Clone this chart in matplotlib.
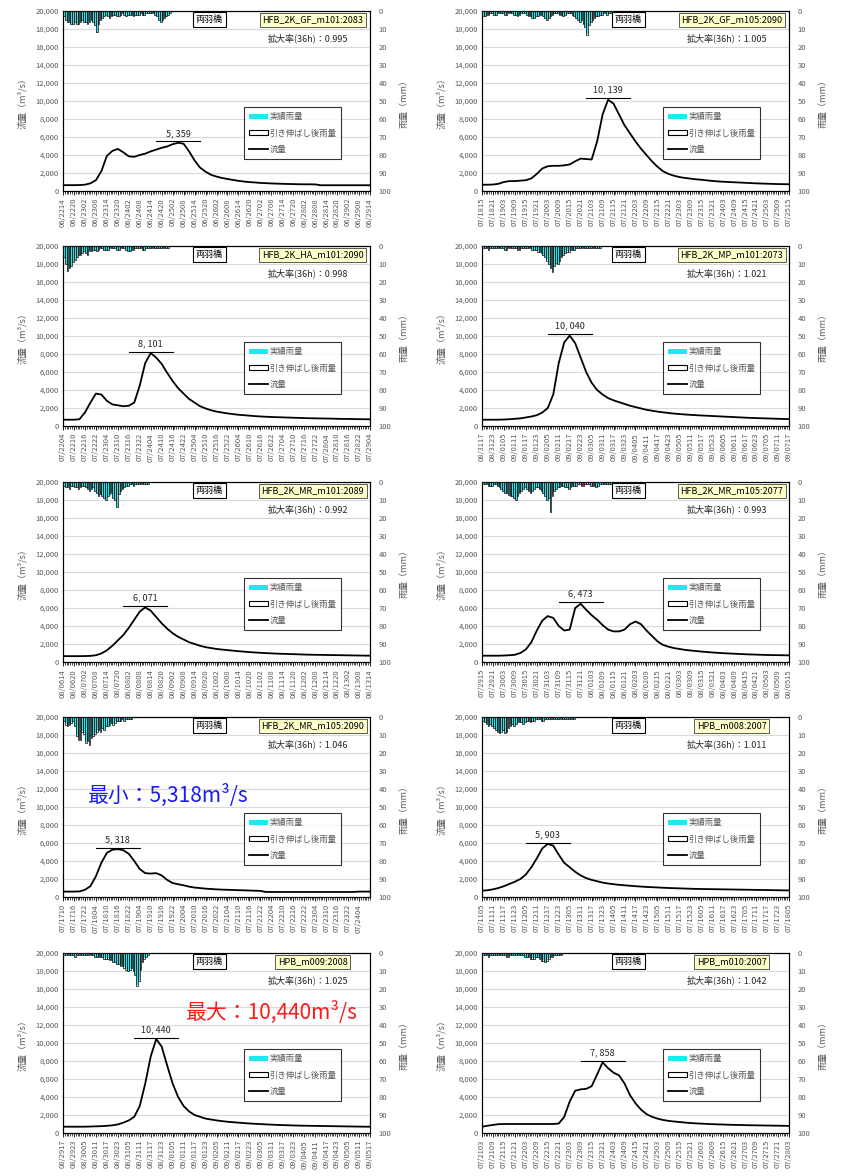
import matplotlib.pyplot as plt
import numpy as np
from datetime import datetime, timedelta
from matplotlib.patches import Patch
from matplotlib.lines import Line2D

plt.rcParams['font.family'] = ['Noto Sans CJK JP', 'DejaVu Sans']

# ---- data -------------------------------------------------------------
station = "両羽橋"
cases = ["HFB_2K_GF_m101:2083", "HFB_2K_GF_m105:2090",
         "HFB_2K_HA_m101:2090", "HFB_2K_MP_m101:2073",
         "HFB_2K_MR_m101:2089", "HFB_2K_MR_m105:2077",
         "HFB_2K_MR_m105:2090", "HPB_m008:2007",
         "HPB_m009:2008", "HPB_m010:2007"]
ratios = ["0.995", "1.005", "0.998", "1.021", "0.992",
          "0.993", "1.046", "1.011", "1.025", "1.042"]
starts = ["06/22 14", "07/18 15", "07/22 04", "08/31 17", "08/06 14",
          "07/29 15", "07/17 10", "07/11 05", "08/29 17", "07/21 03"]
label_end = [168, 168, 168, 168, 168, 168, 162, 168, 168, 168]

# flow (m3/s), every 3 hours from the start
flow_step = 3
q1 = [650, 650, 650, 660, 700, 850, 1200, 2200, 3900, 4450,
      4680, 4300, 3850, 3800, 4000, 4150, 4400, 4600, 4800, 4950,
      5200, 5359, 5250, 4400, 3400, 2600, 2150, 1800, 1600, 1450,
      1330, 1230, 1130, 1050, 990, 950, 900, 870, 840, 820,
      800, 780, 770, 750, 745, 740, 735, 640, 640, 640,
      640, 640, 640, 640, 640, 640, 640]
q2 = [700, 700, 720, 800, 1000, 1100, 1100, 1150, 1200, 1400,
      1900, 2500, 2750, 2800, 2800, 2850, 2950, 3300, 3600, 3550,
      3500, 5500, 8500, 10139, 9700, 8500, 7300, 6400, 5500, 4700,
      4000, 3300, 2700, 2200, 1900, 1700, 1550, 1450, 1380, 1300,
      1250, 1180, 1120, 1070, 1030, 1000, 970, 940, 910, 880,
      850, 830, 810, 790, 770, 760, 750]
q3 = [700, 700, 700, 750, 1500, 2600, 3600, 3500, 2800, 2400,
      2300, 2200, 2250, 2600, 4500, 7000, 8101, 7600, 6900, 5900,
      5000, 4200, 3600, 3000, 2600, 2200, 1950, 1750, 1600, 1500,
      1400, 1320, 1250, 1200, 1150, 1100, 1060, 1030, 1000, 980,
      960, 940, 920, 900, 880, 860, 850, 840, 830, 820,
      800, 790, 780, 770, 760, 750, 750]
q4 = [700, 700, 700, 700, 720, 750, 800, 850, 950, 1050,
      1200, 1500, 2000, 3500, 7000, 9300, 10040, 9200, 7600, 6000,
      4800, 4000, 3500, 3100, 2850, 2650, 2450, 2250, 2100, 1950,
      1800, 1700, 1600, 1520, 1450, 1380, 1330, 1280, 1240, 1200,
      1170, 1140, 1110, 1080, 1050, 1020, 990, 960, 930, 900,
      880, 860, 840, 820, 800, 780, 760]
q5 = [650, 650, 650, 650, 660, 680, 750, 950, 1300, 1800,
      2400, 3000, 3800, 4700, 5600, 6071, 5700, 5000, 4300, 3700,
      3200, 2800, 2500, 2200, 2000, 1800, 1650, 1550, 1450, 1380,
      1320, 1260, 1200, 1150, 1100, 1060, 1020, 990, 960, 930,
      910, 890, 870, 850, 830, 810, 800, 790, 780, 770,
      760, 750, 740, 730, 720, 710, 700]
q6 = [700, 700, 700, 700, 720, 750, 800, 1000, 1400, 2200,
      3500, 4600, 5100, 4900, 4000, 3500, 3600, 6000, 6473, 5800,
      5200, 4700, 4100, 3600, 3400, 3400, 3600, 4200, 4500, 4200,
      3500, 2900, 2300, 1900, 1700, 1550, 1450, 1350, 1280, 1220,
      1160, 1110, 1060, 1020, 980, 950, 920, 890, 860, 840,
      820, 800, 780, 770, 760, 750, 740]
q7 = [600, 600, 600, 620, 800, 1200, 2300, 3800, 4900, 5250,
      5318, 5200, 4800, 4000, 3100, 2650, 2600, 2650, 2400, 1900,
      1550, 1420, 1300, 1150, 1050, 990, 930, 890, 850, 820,
      800, 780, 760, 740, 720, 700, 680, 560, 560, 560,
      560, 560, 560, 560, 560, 560, 560, 560, 560, 560,
      560, 560, 560, 560, 600, 600, 600]
q8 = [700, 750, 850, 1000, 1200, 1450, 1700, 2000, 2500, 3300,
      4300, 5400, 5903, 5700, 4700, 3800, 3300, 2800, 2400, 2100,
      1900, 1750, 1600, 1500, 1420, 1350, 1300, 1250, 1200, 1160,
      1120, 1090, 1060, 1030, 1000, 980, 960, 940, 920, 900,
      890, 880, 870, 860, 850, 840, 830, 820, 810, 800,
      790, 780, 770, 760, 750, 740, 730]
q9 = [700, 700, 700, 700, 700, 720, 740, 760, 800, 850,
      950, 1150, 1400, 1800, 3000, 5500, 8500, 10440, 9600, 7500,
      5500, 4000, 3000, 2400, 2000, 1800, 1600, 1500, 1400, 1320,
      1250, 1200, 1150, 1100, 1060, 1020, 990, 960, 930, 900,
      880, 860, 840, 820, 810, 800, 790, 780, 770, 760,
      750, 740, 730, 720, 710, 700, 700]
q10 = [700, 800, 900, 980, 1000, 1000, 1000, 1000, 1000, 1000,
       1000, 1000, 1000, 1000, 1050, 1800, 3500, 4700, 4850, 4900,
       5200, 6500, 7858, 7200, 6700, 6400, 5500, 4200, 3300, 2600,
       2100, 1800, 1600, 1450, 1350, 1280, 1220, 1160, 1110, 1070,
       1040, 1010, 980, 960, 940, 920, 900, 890, 870, 860,
       850, 840, 830, 820, 810, 800, 790]

# observed hourly rainfall (mm) from the start
r1 = [3, 5, 6, 6, 7, 7, 6, 7, 7, 6, 5, 6, 6, 7, 6, 5, 6, 8, 12, 7,
      5, 4, 3, 2, 3, 4, 3, 2, 2, 3, 3, 2, 1, 2, 3, 2, 2, 2, 3, 2,
      2, 2, 1, 2, 2, 1, 1, 1, 1, 1, 2, 3, 5, 6, 5, 4, 3, 2, 1]
r2 = [3, 3, 2, 2, 1, 1, 2, 2, 1, 1, 1, 1, 2, 2, 1, 1, 1, 2, 2, 3,
      2, 1, 1, 1, 2, 3, 3, 4, 4, 3, 3, 2, 2, 3, 4, 5, 4, 3, 2, 1,
      1, 1, 2, 2, 3, 2, 1, 1, 1, 2, 3, 4, 5, 6, 5, 7, 9, 13, 8, 6,
      5, 4, 3, 3, 2, 2, 1, 1, 2, 1, 1, 1]
r3 = [6, 10, 14, 12, 11, 9, 8, 6, 5, 5, 4, 3, 4, 5, 3, 3, 2, 2, 3, 2,
      1, 1, 2, 2, 2, 1, 1, 1, 1, 2, 2, 1, 1, 1, 2, 3, 3, 2, 2, 1,
      1, 1, 1, 2, 2, 1, 1, 1, 1, 1, 1, 1, 1, 1, 1, 1, 1, 1]
r4 = [1, 1, 1, 2, 1, 1, 1, 1, 1, 1, 1, 1, 2, 2, 1, 1, 1, 1, 1, 2,
      2, 1, 1, 1, 1, 1, 1, 2, 2, 2, 3, 3, 4, 5, 6, 8, 10, 12, 14, 11,
      9, 10, 8, 6, 5, 4, 3, 3, 2, 2, 2, 1, 1, 1, 1, 1, 1, 1, 1, 1,
      1, 1, 1, 1, 1]
r5 = [2, 3, 3, 4, 2, 2, 3, 3, 4, 3, 2, 2, 3, 4, 5, 4, 3, 5, 6, 8,
      7, 8, 9, 10, 8, 7, 6, 9, 10, 14, 7, 5, 4, 3, 2, 2, 1, 1, 2, 1,
      1, 1, 1, 1, 1, 1, 1]
r6 = [1, 1, 1, 2, 2, 2, 1, 1, 2, 3, 4, 5, 6, 6, 7, 8, 8, 9, 10, 8,
      6, 5, 4, 3, 4, 5, 6, 5, 4, 3, 3, 4, 5, 6, 8, 10, 9, 17, 8, 5,
      4, 3, 3, 2, 2, 3, 3, 4, 3, 2, 2, 2, 1, 1, 2, 2, 1, 1, 1, 2,
      2, 2, 3, 2, 1, 1, 1, 1, 1, 1, 1, 2, 2, 1, 1, 1, 1, 1, 1, 1, 1]
r7 = [2, 4, 5, 4, 3, 2, 5, 10, 12, 12, 8, 9, 14, 13, 15, 11, 10, 9, 8, 7,
      8, 6, 7, 5, 5, 4, 3, 4, 3, 2, 2, 2, 1, 2, 1, 1, 1, 1]
r8 = [2, 3, 4, 5, 4, 5, 6, 7, 8, 9, 8, 7, 9, 8, 6, 5, 4, 5, 4, 3,
      3, 3, 4, 3, 2, 2, 3, 2, 2, 1, 1, 1, 2, 2, 1, 1, 1, 1, 1, 1,
      1, 1, 1, 1, 1, 1, 1, 1, 1, 1, 1]
r9 = [1, 1, 1, 1, 1, 1, 2, 1, 1, 1, 1, 1, 1, 1, 1, 1, 1, 2, 2, 2,
      2, 2, 3, 3, 3, 4, 4, 5, 5, 6, 6, 7, 7, 8, 9, 10, 9, 8, 10, 12,
      18, 15, 9, 5, 3, 2, 1]
r10 = [1, 1, 1, 2, 1, 1, 1, 1, 1, 1, 1, 1, 1, 2, 2, 1, 1, 1, 1, 1,
       1, 1, 1, 2, 2, 2, 3, 3, 3, 2, 2, 3, 4, 4, 5, 4, 3, 2, 2, 1,
       1, 1, 1, 1]

flows = [q1, q2, q3, q4, q5, q6, q7, q8, q9, q10]
rains = [r1, r2, r3, r4, r5, r6, r7, r8, r9, r10]

# big notes: panel -> (text, colour, x, y in axes fraction)
notes = {6: ("最小：5,318m³/s", "#1a1aff", 0.08, 0.567),
         8: ("最大：10,440m³/s", "#ff1a1a", 0.40, 0.67)}

# ---- figure -------------------------------------------------------------
W, H = 854, 1176
fig = plt.figure(figsize=(W / 100, H / 100), dpi=100)

lefts = [63, 482]
ax_w = 307
tops = [11, 246, 482, 717, 953]
ax_h = 180

gray = "#595959"
cyan = "#1ee8f0"

for i in range(10):
    row, col = divmod(i, 2)
    ax = fig.add_axes([lefts[col] / W, 1 - (tops[row] + ax_h) / H,
                       ax_w / W, ax_h / H])
    ax2 = ax.twinx()

    t0 = datetime.strptime("2001/" + starts[i], "%Y/%m/%d %H")
    q = np.array(flows[i])
    tq = np.arange(len(q)) * flow_step
    r = np.array(rains[i], dtype=float)
    tr = np.arange(len(r)) + 0.5

    # flow
    ax.plot(tq, q, color="black", lw=1.3, zorder=3)
    ax.set_xlim(0, 168)
    ax.set_ylim(0, 20000)
    ax.set_yticks(range(0, 20001, 2000))
    ax.set_yticklabels([f"{v:,}" for v in range(0, 20001, 2000)])
    ax.yaxis.grid(True, color="#d9d9d9", lw=0.8)
    ax.set_axisbelow(True)

    hours = list(range(0, label_end[i] + 1, 6))
    ax.set_xticks(hours)
    ax.set_xticklabels([(t0 + timedelta(hours=h)).strftime("%m/%d%H")
                        for h in hours], rotation=90)
    ax.set_xticks(range(0, 169), minor=True)
    ax.tick_params(axis="x", which="major", length=3, width=0.6,
                   labelsize=5.5, labelcolor=gray, pad=2)
    ax.tick_params(axis="x", which="minor", length=2, width=0.5)
    ax.tick_params(axis="y", length=0, labelsize=5.5, labelcolor=gray, pad=3)
    ax.set_ylabel("流量（m³/s）", fontsize=6.5, color=gray, labelpad=6)

    # rainfall (hanging from top)
    ax2.bar(tr, r, width=0.9, color=cyan, edgecolor="none", zorder=2)
    ax2.bar(tr, r * float(ratios[i]), width=0.9, facecolor="none",
            edgecolor="#1a1a1a", lw=0.55, zorder=3)
    ax2.set_ylim(100, 0)
    ax2.set_yticks(range(0, 101, 10))
    ax2.tick_params(axis="y", length=0, labelsize=5.5, labelcolor=gray, pad=6)
    ax2.set_ylabel("雨量（mm）", fontsize=6.5, color=gray, labelpad=6)

    for a in (ax, ax2):
        for s in a.spines.values():
            s.set_linewidth(0.8)

    # peak
    k = int(np.argmax(q))
    pk = q[k]
    ax.plot([tq[k] - 12, tq[k] + 12], [pk + 150, pk + 150],
            color="black", lw=0.8, zorder=3)
    ax.text(tq[k], pk + 550, f"{pk:,}".replace(",", ", "),
            ha="center", va="bottom", fontsize=6.5, color="#262626")

    # labels
    ax2.text(0.477, 0.953, station, transform=ax2.transAxes,
             ha="center", va="center", fontsize=6.5, zorder=5,
             bbox=dict(boxstyle="square,pad=0.3", fc="white",
                       ec="black", lw=0.8))
    ax2.text(0.814, 0.950, cases[i], transform=ax2.transAxes,
             ha="center", va="center", fontsize=6.5, zorder=5,
             bbox=dict(boxstyle="square,pad=0.3", fc="#ffffcc",
                       ec="#404040", lw=0.6))
    ax2.text(0.93, 0.85, f"拡大率(36h)：{ratios[i]}",
             transform=ax2.transAxes, ha="right", va="center",
             fontsize=6.5, color="#262626")

    handles = [Patch(fc=cyan, ec="none"),
               Patch(fc="white", ec="black", lw=0.8),
               Line2D([], [], color="black", lw=1.3)]
    leg = ax2.legend(handles, ["実績雨量", "引き伸ばし後雨量", "流量"],
                     loc="upper left", bbox_to_anchor=(0.577, 0.489),
                     fontsize=6, frameon=True, fancybox=False,
                     handlelength=2.2, handleheight=0.6,
                     labelspacing=0.9, borderpad=0.6, handletextpad=0.2)
    leg.get_frame().set_edgecolor("black")
    leg.get_frame().set_linewidth(0.8)
    for txt in leg.get_texts():
        txt.set_color(gray)

    if i in notes:
        s, c, x, y = notes[i]
        ax2.text(x, y, s, transform=ax2.transAxes, ha="left",
                 va="center", fontsize=15, color=c, zorder=6)

fig.savefig("out.png", dpi=100)
